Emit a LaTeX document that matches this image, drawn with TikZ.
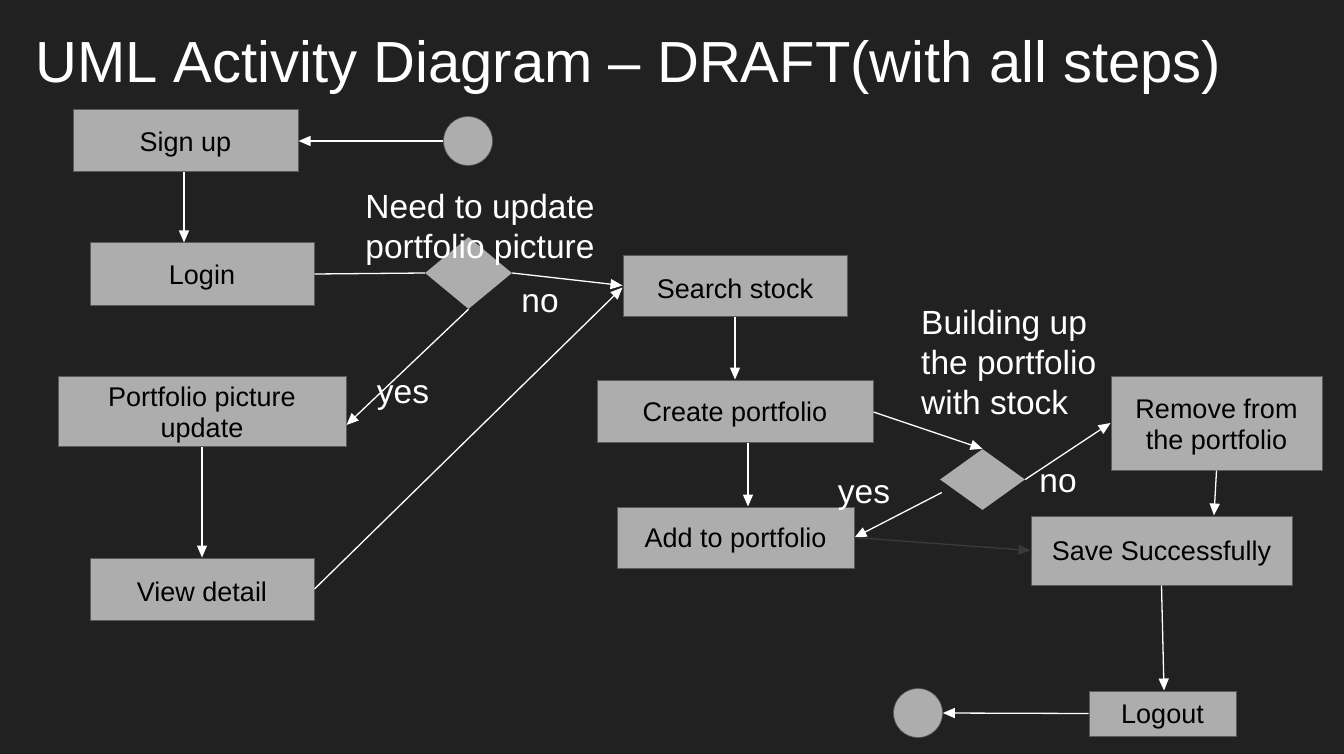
\documentclass[tikz,border=0pt]{standalone}
\usepackage{fontspec}
\setmainfont{Liberation Sans}
\usetikzlibrary{arrows.meta,shapes.geometric,calc}
\definecolor{bg}{HTML}{212121}
\definecolor{boxfill}{HTML}{ADADAD}
\definecolor{boxline}{HTML}{5A5A5A}
\definecolor{darkarrow}{HTML}{3A3A3A}
\newcommand{\topgap}{\rule{0pt}{28.5pt}}
\tikzset{
  actbox/.style={draw=boxline, line width=1pt, fill=boxfill, inner sep=0pt, align=center,
    font=\fontsize{27}{31}\selectfont, text=black,
    execute at begin node={\rule{0pt}{26pt}}},
  decision/.style={diamond, fill=boxfill, draw=none, inner sep=0pt},
  terminal/.style={circle, fill=boxfill, draw=boxline, line width=0.6pt, inner sep=0pt, minimum size=49pt},
  flow/.style={draw=white, line width=1.3pt, -{Triangle[length=12pt,width=10pt]}},
  plainline/.style={draw=white, line width=1.3pt},
  dimflow/.style={draw=darkarrow, line width=1.3pt, -{Triangle[length=12pt,width=10pt]}},
  lbl/.style={text=white, font=\fontsize{33.5}{40}\selectfont, inner sep=0pt}
}
\begin{document}
\begin{tikzpicture}[x=1pt,y=-1pt]
\fill[bg] (0,0) rectangle (1344,754);
\useasboundingbox (0,0) rectangle (1344,754);

\node[anchor=base west, text=white, inner sep=0pt, font=\fontsize{58}{66}\selectfont] (title) at (35,83)
  {UML Activity Diagram – DRAFT(with all steps)};

% activities
\node[actbox, minimum width=225pt, minimum height=62pt] (signup) at (185.5,141) {Sign up};
\node[terminal] (start) at (468,141) {};
\node[actbox, minimum width=224pt, minimum height=62pt] (login) at (202,274) {Login};
\node[decision, minimum width=87pt, minimum height=72pt] (d1) at (468.5,273) {};
\node[actbox, minimum width=224pt, minimum height=61pt] (search) at (735,285.5) {Search stock};
\node[actbox, minimum width=288pt, minimum height=70pt] (ppu) at (202,411) {\topgap Portfolio picture\\update};
\node[actbox, minimum width=276pt, minimum height=62pt] (create) at (735,411) {Create portfolio};
\node[decision, minimum width=85pt, minimum height=61pt] (d2) at (982.5,479.5) {};
\node[actbox, minimum width=211pt, minimum height=94pt] (remove) at (1216.5,423) {\topgap Remove from\\the portfolio};
\node[actbox, minimum width=237pt, minimum height=61pt] (add) at (735.5,537.5) {Add to portfolio};
\node[actbox, minimum width=261pt, minimum height=69pt] (save) at (1161.5,550.5) {Save Successfully};
\node[actbox, minimum width=224pt, minimum height=62pt] (view) at (202,589) {View detail};
\node[actbox, minimum width=147pt, minimum height=45pt] (logout) at (1162.5,713.5) {Logout};
\node[terminal] (end) at (918,713) {};

% labels
\node[lbl, align=center, anchor=north] (q1) at (480,194) {Need to update\\portfolio picture};
\node[lbl, anchor=base] (no1) at (540,312) {no};
\node[lbl, anchor=base] (yes1) at (403,403) {yes};
\node[lbl, align=left, anchor=north west] (q2) at (921,310) {Building up\\the portfolio\\with stock};
\node[lbl, anchor=base] (yes2) at (864,503) {yes};
\node[lbl, anchor=base] (no2) at (1058,492) {no};

% connectors
\draw[flow] (start.west) -- (signup.east);
\draw[flow] ([xshift=-1.5pt]signup.south) -- ([xshift=-1.5pt]signup.south |- login.north);
\draw[plainline] (login.east) -- (d1.west);
\draw[flow] (d1.east) -- (search.west);
\draw[flow] (d1.south) -- ([yshift=-14pt]ppu.east);
\draw[flow] (ppu.south) -- (view.north);
\draw[flow] (view.east) -- ([yshift=-2pt]search.west);
\draw[flow] (search.south) -- (create.north);
\draw[flow] ([yshift=-1pt]create.east) -- (d2.north);
\draw[flow] ($(d2.west)+(2,13)$) -- (add.east);
\draw[flow] (d2.east) -- (remove.west);
\draw[flow] ([xshift=13pt]create.south) -- ([xshift=13pt]create.south |- add.north);
\draw[dimflow] (add.east) -- (save.west);
\draw[flow] (remove.south) -- ([xshift=52.5pt]save.north);
\draw[flow] (save.south) -- ([xshift=1.5pt]logout.north);
\draw[flow] (logout.west) -- (end.east);
\end{tikzpicture}
\end{document}
